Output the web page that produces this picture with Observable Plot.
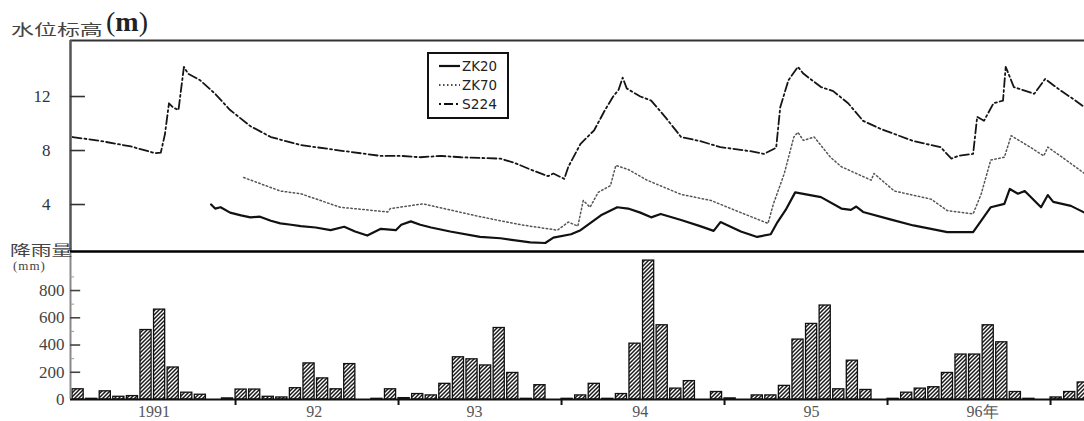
<!DOCTYPE html>
<html><head><meta charset="utf-8">
<script src="https://cdn.jsdelivr.net/npm/d3@7"></script>
<script src="https://cdn.jsdelivr.net/npm/@observablehq/plot@0.6"></script>
<style>
body{margin:0;background:#fff;}
#wrap{position:relative;width:1084px;height:421px;overflow:hidden;background:#fff;}
.lbl{position:absolute;color:#444;white-space:nowrap;line-height:1;transform-origin:left top;}
#top svg,#bot svg{display:block;}
</style></head>
<body>
<svg width="0" height="0" style="position:absolute">
<defs>
<pattern id="hatch" patternUnits="userSpaceOnUse" width="4" height="4">
<rect width="4" height="4" fill="#fff"/>
<path d="M-1,1 l2,-2 M0,4 l4,-4 M3,5 l2,-2" stroke="#1a1a1a" stroke-width="1.5"/>
</pattern>
</defs></svg>
<div id="wrap">
  <div id="top"></div>
  <div id="bot"></div>
  <div class="lbl" style="left:11px;top:21px;font-family:'Noto Sans CJK SC';font-size:17px;transform:scale(1.35,0.85);">水位标高</div>
  <div class="lbl" style="left:106px;top:8px;font-family:'Liberation Serif';font-size:28px;color:#222;">(<b>m</b>)</div>
  <div class="lbl" style="left:10px;top:242px;font-family:'Noto Sans CJK SC';font-size:16px;transform:scale(1.3,0.85);">降雨量</div>
  <div class="lbl" style="left:13px;top:259px;font-family:'Liberation Serif';font-size:13px;letter-spacing:1px;">(mm)</div>
  <svg id="legend" width="82" height="67" style="position:absolute;left:427px;top:52px;">
    <rect x="1" y="1" width="80" height="65" fill="#fff" stroke="#111" stroke-width="2"/>
  </svg>
</div>
<script>
// ---- Water level series (x = months since Jan 1991, v = level in m) ----
const s224M = [0,2.1,4.3,6.1,6.5,6.8,7.1,7.4,7.8,8.0,8.2,8.5,9.4,10.5,11.6,13.1,14.6,16.8,19.7,22.7,24.2,25.6,27.1,28.6,31.5,32.5,33.7,35.0,35.4,36.2,36.5,37.4,38.4,39.2,39.8,40.2,40.5,40.8,41.8,42.6,43.7,44.8,46.2,47.7,49.9,50.9,51.8,52.1,52.7,53.4,53.8,55.1,56.0,57.1,58.2,59.5,61.9,63.9,64.7,65.2,66.3,66.6,67.1,67.8,68.5,68.7,69.3,70.8,71.6,72.8,73.7,74.5];
const s224V = [9.0,8.7,8.3,7.8,7.85,9.2,11.5,11.2,11.0,12.6,14.2,13.7,13.2,12.2,11.0,9.8,9.0,8.4,8.0,7.6,7.6,7.5,7.6,7.5,7.4,7.1,6.6,6.1,6.3,5.9,6.8,8.5,9.5,11.0,12.0,12.5,13.4,12.6,12.0,11.7,10.4,9.0,8.7,8.25,7.95,7.75,8.2,11.2,13.2,14.2,13.7,12.7,12.4,11.5,10.2,9.6,8.7,8.25,7.4,7.6,7.75,10.5,10.2,11.5,11.7,14.2,12.7,12.2,13.3,12.4,11.8,11.2];

const zk70M = [12.6,15.3,16.8,19.7,23.2,23.4,25.8,30.0,33.0,35.7,36.5,37.2,37.6,38.1,38.7,39.6,40.0,40.9,42.3,44.8,47.0,49.2,51.2,51.6,52.4,53.1,53.4,53.8,54.6,55.8,56.6,58.8,59.0,60.5,63.2,64.4,66.3,66.9,67.6,68.6,69.1,70.5,71.5,71.8,73.0,74.5];
const zk70V = [6.0,5.0,4.8,3.8,3.45,3.7,4.05,3.1,2.5,2.1,2.7,2.4,4.3,3.8,4.9,5.4,6.9,6.6,5.8,4.75,4.3,3.4,2.6,4.05,6.3,9.0,9.35,8.75,9.0,7.5,6.8,5.8,6.3,5.0,4.4,3.55,3.3,4.8,7.3,7.5,9.1,8.25,7.6,8.25,7.4,6.3];

const zk20M = [10.2,10.5,10.9,11.6,12.4,13.1,13.8,14.6,15.3,16.1,16.8,17.9,19.0,20.0,20.8,21.7,22.7,23.8,24.2,24.9,25.6,26.4,27.8,30.0,31.5,33.7,34.8,35.4,36.7,37.4,38.9,40.1,40.9,41.8,42.6,43.3,44.8,46.2,47.2,47.7,49.2,50.4,51.4,51.9,52.5,53.2,55.1,56.6,57.3,57.7,58.2,60.2,61.9,63.2,64.4,66.3,66.9,67.6,68.6,69.0,69.6,70.1,71.3,71.8,72.2,73.5,74.5];
const zk20V = [4.0,3.7,3.8,3.4,3.2,3.05,3.1,2.8,2.6,2.5,2.4,2.3,2.1,2.35,2.0,1.7,2.2,2.1,2.5,2.75,2.5,2.3,2.0,1.6,1.5,1.2,1.15,1.55,1.8,2.1,3.2,3.8,3.7,3.4,3.05,3.3,2.85,2.4,2.05,2.7,2.0,1.6,1.8,2.7,3.6,4.9,4.55,3.7,3.6,3.85,3.45,2.9,2.45,2.2,1.95,1.95,2.8,3.8,4.05,5.15,4.8,5.0,3.8,4.7,4.2,3.9,3.4];

// ---- Monthly rainfall (mm), Jan 1991 .. Mar 1997 ----
const rain = [
  75,5,60,20,25,510,660,235,50,35,0,8,
  73,73,20,15,83,265,155,75,260,0,5,75,
  10,40,30,115,310,295,250,525,195,5,105,0,
  5,30,115,5,40,410,1020,545,80,135,0,55,
  8,0,30,30,100,440,555,690,75,285,70,0,
  5,50,80,90,195,330,330,545,420,55,5,0,
  15,55,125
];

// ---- Ticks / labels ----
const levelTicks = [4, 8, 12];
const rainTicks = [200, 400, 600, 800];
const rainLabels = [0, 200, 400, 600, 800];
const rainMinor = [300, 500, 700, 900];
const yearBounds = [12, 24, 36, 48, 60, 72];
const yearLabelPos = [6, 17.8, 29.6, 41.8, 54.4, 67];
const yearLabels = ["1991", "92", "93", "94", "95", "96年"];
const legendNames = ["ZK20", "ZK70", "S224"];

const xDomain = [-0.15, 74.5];
const topY = [0.52, 16.15];
const botY = [0, 1072];

const mk = (ms, vs) => ms.map((m, i) => ({m, v: vs[i]}));
const s224 = mk(s224M, s224V), zk70 = mk(zk70M, zk70V), zk20 = mk(zk20M, zk20V);
const rainData = rain.map((v, m) => ({m, v}));
const labelMap = new Map(yearLabelPos.map((p, i) => [p, yearLabels[i]]));

const serif = "'Liberation Serif', 'DejaVu Serif', serif";
const plotStyle = {background: "transparent", fontFamily: serif, fontSize: "16px"};

const topPlot = Plot.plot({
  width: 1084, height: 253,
  marginTop: 40, marginBottom: 2, marginLeft: 70, marginRight: 0,
  x: {domain: xDomain, axis: null},
  y: {domain: topY},
  style: plotStyle,
  marks: [
    Plot.ruleY([topY[1]], {stroke: "#333", strokeWidth: 2}),
    Plot.line(s224, {x: "m", y: "v", stroke: "#151515", strokeWidth: 1.8, strokeDasharray: "9,3,2,3"}),
    Plot.line(zk70, {x: "m", y: "v", stroke: "#555", strokeWidth: 1.5, strokeDasharray: "1.5,2.5"}),
    Plot.line(zk20, {x: "m", y: "v", stroke: "#111", strokeWidth: 2.2}),
    Plot.ruleX([xDomain[0]], {stroke: "#555", strokeWidth: 2.5}),
    Plot.ruleY([topY[0]], {stroke: "#000", strokeWidth: 2.5}),
    Plot.ruleY(levelTicks, {x1: xDomain[0], x2: xDomain[0] + 1.1, stroke: "#333", strokeWidth: 1.6}),
    Plot.axisY({ticks: levelTicks, tickSize: 0, tickPadding: 20, tickFormat: d => String(d), label: null,
      color: "#333", fontSize: 17, fontFamily: serif})
  ]
});
document.getElementById("top").appendChild(topPlot);

const botPlot = Plot.plot({
  width: 1084, height: 168,
  marginTop: 0, marginBottom: 22, marginLeft: 70, marginRight: 0,
  x: {domain: xDomain},
  y: {domain: botY},
  style: plotStyle,
  marks: [
    Plot.rectY(rainData, {x1: "m", x2: d => d.m + 0.82, y: "v", fill: "url(#hatch)", stroke: "#111", strokeWidth: 1.3}),
    Plot.ruleX([xDomain[0]], {stroke: "#888", strokeWidth: 2}),
    Plot.ruleY([0], {stroke: "#111", strokeWidth: 2.2}),
    Plot.ruleY(rainTicks, {x1: xDomain[0], x2: xDomain[0] + 0.75, stroke: "#444", strokeWidth: 1.6}),
    Plot.ruleY(rainMinor, {x1: xDomain[0], x2: xDomain[0] + 0.3, stroke: "#999", strokeWidth: 1}),
    Plot.axisY({ticks: rainLabels, tickSize: 0, tickPadding: 6, tickFormat: d => String(d), label: null,
      color: "#444", fontSize: 17, fontFamily: serif}),
    Plot.axisX({ticks: yearBounds, tickSize: 6, tickFormat: () => "", label: null, color: "#111", strokeWidth: 2}),
    Plot.axisX({ticks: yearLabelPos, tickSize: 0, tickPadding: 6, tickFormat: d => labelMap.get(d), label: null,
      color: "#555", fontSize: 16, fontFamily: serif})
  ]
});
document.getElementById("bot").appendChild(botPlot);

// ---- legend ----
const lg = d3.select("#legend");
const dashes = [null, "1.5,2.5", "2,3,9,3"];
const widths = [2.2, 1.5, 1.8];
legendNames.forEach((name, i) => {
  const y = 14 + i * 19;
  lg.append("line").attr("x1", 12).attr("x2", 33).attr("y1", y).attr("y2", y)
    .attr("stroke", "#111").attr("stroke-width", widths[i])
    .attr("stroke-dasharray", dashes[i]);
  lg.append("text").attr("x", 35).attr("y", y + 5).text(name)
    .attr("font-family", "'DejaVu Sans', sans-serif").attr("font-size", 14)
    .attr("textLength", 35).attr("lengthAdjust", "spacingAndGlyphs").attr("fill", "#222");
});
</script>
</body></html>
